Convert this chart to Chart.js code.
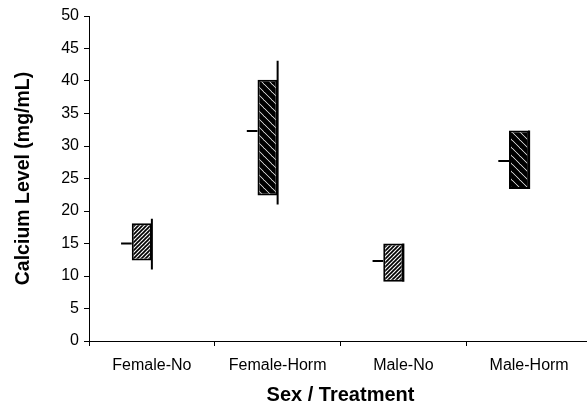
<!DOCTYPE html>
<html>
<head>
<meta charset="utf-8">
<script src="https://cdn.jsdelivr.net/npm/chart.js@4.4.1/dist/chart.umd.min.js"></script>
<style>
  html, body { margin: 0; padding: 0; background: #fff; overflow: hidden; }
  #wrap { width: 592px; height: 405px; }
</style>
</head>
<body>
<div id="wrap"><canvas id="chart" width="592" height="405"></canvas></div>
<script>
// === Data ===
const categories = ["Female-No", "Female-Horm", "Male-No", "Male-Horm"];
const boxLow = [12.4, 22.4, 9.1, 23.4];
const boxHigh = [18.1, 40.2, 15.0, 32.4];
const whiskerLow = [11.0, 21.0, 9.1, 23.4];
const whiskerHigh = [18.8, 43.1, 15.0, 32.4];
const midValue = [15.0, 32.3, 12.3, 27.7];
const yTicks = [0, 5, 10, 15, 20, 25, 30, 35, 40, 45, 50];

const FONT = "'Liberation Sans', Arial, sans-serif";
const BOX_U = 0.16;   // box width, in category units
const TICK_U = 0.085; // mid tick length, in category units

// === hatch patterns ===
function hatch(size, width, back) {
  const c = document.createElement("canvas");
  c.width = size;
  c.height = size;
  const g = c.getContext("2d");
  g.fillStyle = "#fff";
  g.fillRect(0, 0, size, size);
  g.strokeStyle = "#000";
  g.lineWidth = width;
  for (let k = -2; k <= 2; k++) {
    g.beginPath();
    if (back) {
      g.moveTo(k * size - size, -size);
      g.lineTo(k * size + 2 * size, 2 * size);
    } else {
      g.moveTo(k * size - size, 2 * size);
      g.lineTo(k * size + 2 * size, -size);
    }
    g.stroke();
  }
  return g.createPattern(c, "repeat");
}
const thin = hatch(4, 1.7, false);
const thick = hatch(8, 5, true);
const fills = [thin, thick, thin, thick];

// === box centres, whisker + mid tick segments (null breaks the line) ===
const boxPts = [];
const whiskerPts = [];
const midPts = [];
categories.forEach((c, i) => {
  const cx = i + 0.5;
  boxPts.push({ x: cx - BOX_U / 2, y: [boxLow[i], boxHigh[i]] });
  whiskerPts.push({ x: cx, y: whiskerLow[i] }, { x: cx, y: whiskerHigh[i] }, { x: cx, y: null });
  midPts.push(
    { x: cx - BOX_U - TICK_U, y: midValue[i] },
    { x: cx - BOX_U, y: midValue[i] },
    { x: cx, y: null }
  );
});

new Chart(document.getElementById("chart"), {
  type: "bar",
  data: {
    labels: categories,
    datasets: [
      {
        xAxisID: "xl",
        data: boxPts,
        backgroundColor: fills,
        borderColor: "#000",
        borderWidth: 2,
        borderSkipped: false,
        grouped: false,
        categoryPercentage: BOX_U,
        barPercentage: 1,
        order: 2,
      },
      {
        type: "line",
        xAxisID: "xl",
        data: whiskerPts,
        borderColor: "#000",
        borderWidth: 2,
        pointRadius: 0,
        spanGaps: false,
        order: 1,
      },
      {
        type: "line",
        xAxisID: "xl",
        data: midPts,
        borderColor: "#000",
        borderWidth: 2,
        pointRadius: 0,
        spanGaps: false,
        order: 1,
      },
    ],
  },
  options: {
    responsive: false,
    animation: false,
    devicePixelRatio: 1,
    layout: { padding: { top: 16, right: 0, bottom: 0, left: 0 } },
    plugins: { legend: { display: false }, tooltip: { enabled: false } },
    scales: {
      x: {
        type: "category",
        offset: true,
        grid: { offset: true, drawOnChartArea: false, tickLength: 5, color: "#000" },
        border: { color: "#000", width: 1 },
        ticks: { color: "#000", font: { family: FONT, size: 16 }, padding: 10, maxRotation: 0 },
        title: {
          display: true,
          text: "Sex / Treatment",
          color: "#000",
          font: { family: FONT, size: 20, weight: "bold" },
          padding: { top: 0, bottom: -2 },
        },
        afterFit(s) { s.height = 64; },
      },
      xl: {
        type: "linear",
        axis: "x",
        position: "bottom",
        display: false,
        offset: false,
        grid: { offset: false },
        min: 0,
        max: categories.length,
        afterBuildTicks(s) { s.ticks = categories.concat([""]).map((c, i) => ({ value: i })); },
      },
      y: {
        min: 0,
        max: 50,
        afterBuildTicks(s) { s.ticks = yTicks.map((v) => ({ value: v })); },
        grid: { drawOnChartArea: false, tickLength: 5, color: "#000" },
        border: { color: "#000", width: 1 },
        ticks: { color: "#000", font: { family: FONT, size: 16 }, padding: 5 },
        title: {
          display: true,
          text: "Calcium Level (mg/mL)",
          color: "#000",
          font: { family: FONT, size: 19.5, weight: "bold" },
          padding: { top: 12, bottom: 0 },
        },
        afterFit(s) { s.width = 89; },
      },
    },
  },
});
</script>
</body>
</html>
